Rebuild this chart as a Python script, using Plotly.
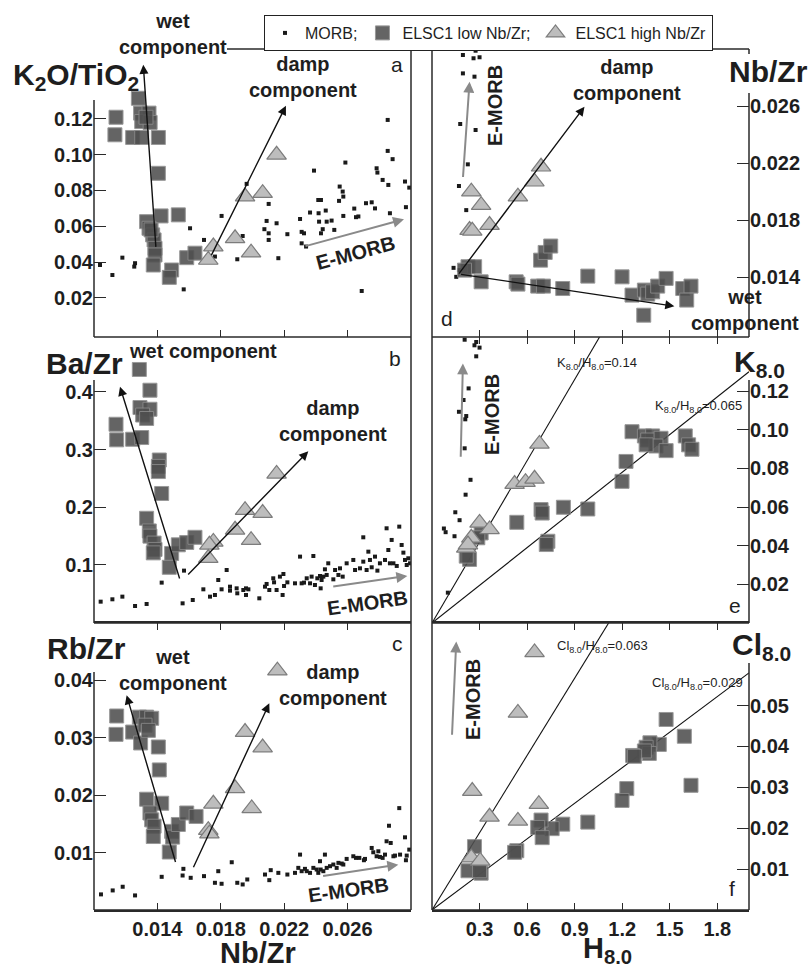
import plotly.graph_objects as go

FONT = "Liberation Sans, Arial, Helvetica, sans-serif"
W, H = 812, 969

# ---------------- DATA ----------------
# Panel a: K2O/TiO2 vs Nb/Zr
a_morb_nbzr = [0.01038, 0.01116, 0.01179, 0.01259, 0.01254, 0.01566, 0.01606, 0.01694, 0.01763, 0.01805,
               0.01938, 0.01904, 0.01963, 0.02102, 0.02089, 0.02075, 0.02102, 0.02152, 0.02102, 0.02163,
               0.02220, 0.02300, 0.02310, 0.02325, 0.02310, 0.02338, 0.02363, 0.02388, 0.02415, 0.02432,
               0.02417, 0.02420, 0.02432, 0.02443, 0.02462, 0.02468, 0.02499, 0.02516, 0.02546, 0.02550,
               0.02569, 0.02573, 0.02573, 0.02586, 0.02642, 0.02653, 0.02668, 0.02716, 0.02752, 0.02773,
               0.02783, 0.02788, 0.02821, 0.02857, 0.02853, 0.02853, 0.02884, 0.02867, 0.02962, 0.02989,
               0.02968, 0.02689]
a_morb_k2o = [0.0384, 0.0328, 0.0425, 0.0394, 0.0375, 0.0248, 0.0589, 0.0524, 0.0431, 0.0658,
              0.0546, 0.0416, 0.0837, 0.0725, 0.0630, 0.0584, 0.0561, 0.0617, 0.0524, 0.0422,
              0.0556, 0.0641, 0.0569, 0.0561, 0.0505, 0.0487, 0.0677, 0.0911, 0.0747, 0.0747,
              0.0673, 0.0626, 0.0561, 0.0584, 0.0688, 0.0626, 0.0632, 0.0580, 0.0742, 0.0822,
              0.0794, 0.0766, 0.0658, 0.0956, 0.0699, 0.0651, 0.0655, 0.0729, 0.0734, 0.0700,
              0.0924, 0.0900, 0.0859, 0.0831, 0.1194, 0.1021, 0.0975, 0.0673, 0.0850, 0.0816,
              0.0707, 0.0239]
a_low_nbzr = [0.01280, 0.01139, 0.01132, 0.01244, 0.01301, 0.01406, 0.01294, 0.01347, 0.01301, 0.01354,
              0.01328, 0.01406, 0.01423, 0.01532, 0.01332, 0.01347, 0.01370, 0.01379, 0.01385, 0.01385,
              0.01374, 0.01490, 0.01475, 0.01585, 0.01637, 0.01360]
a_low_k2o = [0.1315, 0.1209, 0.1111, 0.1096, 0.1096, 0.1096, 0.1232, 0.1232, 0.1185, 0.1180,
             0.1209, 0.0896, 0.0658, 0.0664, 0.0626, 0.0589, 0.0552, 0.0524, 0.0477, 0.0440,
             0.0384, 0.0356, 0.0315, 0.0425, 0.0450, 0.0580]
a_high_nbzr = [0.02152, 0.01953, 0.02064, 0.01890, 0.01991, 0.01753, 0.01721]
a_high_k2o = [0.0999, 0.0766, 0.0785, 0.0533, 0.0453, 0.0487, 0.0412]

# Panel b: Ba/Zr vs Nb/Zr
b_morb_nbzr = [0.01042, 0.01116, 0.01179, 0.01259, 0.01332, 0.01427, 0.01559, 0.01568, 0.01623, 0.01690,
               0.01732, 0.01763, 0.01784, 0.01805, 0.01837, 0.01858, 0.01858, 0.01900, 0.01904, 0.01942,
               0.01959, 0.01959, 0.01974, 0.02043, 0.02079, 0.02089, 0.02106, 0.02131, 0.02136, 0.02152,
               0.02173, 0.02190, 0.02195, 0.02199, 0.02220, 0.02268, 0.02300, 0.02310, 0.02325, 0.02342,
               0.02363, 0.02373, 0.02384, 0.02394, 0.02409, 0.02426, 0.02430, 0.02436, 0.02447, 0.02457,
               0.02468, 0.02478, 0.02510, 0.02521, 0.02542, 0.02552, 0.02569, 0.02594, 0.02636, 0.02647,
               0.02678, 0.02699, 0.02699, 0.02720, 0.02741, 0.02752, 0.02773, 0.02788, 0.02804, 0.02836,
               0.02846, 0.02857, 0.02867, 0.02878, 0.02889, 0.02910, 0.02926, 0.02941, 0.02952, 0.02962,
               0.02973, 0.02983, 0.02994, 0.02731]
b_morb_bazr = [0.0364, 0.0405, 0.0451, 0.0289, 0.0324, 0.0694, 0.0335, 0.0902, 0.0393, 0.0578,
               0.0451, 0.0480, 0.0740, 0.0578, 0.0913, 0.0624, 0.0555, 0.0595, 0.0509, 0.0566,
               0.0595, 0.0480, 0.0578, 0.0422, 0.0624, 0.0671, 0.0566, 0.0769, 0.0699, 0.0566,
               0.0798, 0.0480, 0.0844, 0.0636, 0.0699, 0.0682, 0.1145, 0.0682, 0.0694, 0.0769,
               0.0682, 0.0798, 0.1156, 0.0653, 0.0769, 0.0809, 0.0595, 0.0740, 0.0798, 0.0925,
               0.0827, 0.1029, 0.0751, 0.0913, 0.0827, 0.0942, 0.0798, 0.1029, 0.1087, 0.0913,
               0.0942, 0.1058, 0.1480, 0.0913, 0.1087, 0.0960, 0.1145, 0.0902, 0.1029, 0.1087,
               0.1636, 0.1260, 0.1029, 0.1434, 0.1029, 0.0983, 0.1665, 0.1347, 0.1214, 0.1087,
               0.1000, 0.1116, 0.1029, 0.1231]
b_low_nbzr = [0.01286, 0.01353, 0.01290, 0.01353, 0.01307, 0.01332, 0.01139, 0.01143, 0.01244, 0.01301,
              0.01412, 0.01406, 0.01406, 0.01427, 0.01332, 0.01349, 0.01353, 0.01379, 0.01385, 0.01374,
              0.01490, 0.01475, 0.01532, 0.01585, 0.01637]
b_low_bazr = [0.439, 0.403, 0.373, 0.370, 0.360, 0.354, 0.344, 0.317, 0.318, 0.321,
              0.282, 0.271, 0.262, 0.224, 0.181, 0.159, 0.150, 0.138, 0.127, 0.121,
              0.120, 0.096, 0.135, 0.139, 0.148]
b_high_nbzr = [0.02152, 0.01953, 0.02064, 0.01890, 0.01991, 0.01753, 0.01728, 0.01721]
b_high_bazr = [0.258, 0.195, 0.190, 0.161, 0.143, 0.140, 0.135, 0.112]

# Panel c: Rb/Zr vs Nb/Zr
c_morb_nbzr = [0.01044, 0.01118, 0.01181, 0.01259, 0.01427, 0.01564, 0.01559, 0.01610, 0.01694, 0.01763,
               0.01784, 0.01805, 0.01869, 0.01904, 0.01938, 0.01967, 0.02079, 0.02106, 0.02115, 0.02163,
               0.02220, 0.02268, 0.02289, 0.02300, 0.02310, 0.02331, 0.02342, 0.02363, 0.02384, 0.02405,
               0.02415, 0.02426, 0.02430, 0.02447, 0.02457, 0.02468, 0.02489, 0.02510, 0.02531, 0.02542,
               0.02563, 0.02573, 0.02594, 0.02636, 0.02653, 0.02674, 0.02703, 0.02710, 0.02752, 0.02762,
               0.02783, 0.02794, 0.02821, 0.02836, 0.02846, 0.02861, 0.02872, 0.02889, 0.02899, 0.02926,
               0.02931, 0.02962, 0.02968, 0.02973, 0.02989, 0.02804]
c_morb_rbzr = [0.00272, 0.00341, 0.00405, 0.00254, 0.00578, 0.00717, 0.00601, 0.00561, 0.00590, 0.00474,
               0.00676, 0.00457, 0.00832, 0.00474, 0.00445, 0.00532, 0.00618, 0.00520, 0.00694, 0.00647,
               0.00618, 0.00647, 0.00734, 0.00965, 0.00676, 0.00717, 0.00676, 0.00647, 0.00734, 0.00705,
               0.00647, 0.00850, 0.00705, 0.00676, 0.00965, 0.00734, 0.00763, 0.00792, 0.00734, 0.00821,
               0.00809, 0.00792, 0.00890, 0.00936, 0.00908, 0.00908, 0.00867, 0.00890, 0.01081, 0.01006,
               0.00936, 0.01023, 0.00908, 0.00965, 0.01197, 0.01468, 0.01168, 0.00936, 0.00948, 0.01775,
               0.00965, 0.01266, 0.00867, 0.00948, 0.01052, 0.00925]
c_low_nbzr = [0.01143, 0.01139, 0.01244, 0.01294, 0.01286, 0.01332, 0.01364, 0.01322, 0.01343, 0.01406,
              0.01412, 0.01332, 0.01427, 0.01353, 0.01364, 0.01379, 0.01374, 0.01490, 0.01496, 0.01532,
              0.01585, 0.01644, 0.01475]
c_low_rbzr = [0.0338, 0.0306, 0.0310, 0.0291, 0.0336, 0.0336, 0.0334, 0.0322, 0.0313, 0.0284,
              0.0244, 0.0193, 0.0186, 0.0169, 0.0157, 0.0146, 0.0128, 0.0137, 0.0127, 0.0149,
              0.0169, 0.0163, 0.0101]
c_high_nbzr = [0.02157, 0.01953, 0.02064, 0.01890, 0.01995, 0.01753, 0.01721, 0.01728]
c_high_rbzr = [0.0417, 0.0310, 0.0283, 0.0212, 0.0177, 0.0185, 0.0139, 0.0133]

# Panel d: Nb/Zr vs H8.0
d_morb_h = [0.195, 0.275, 0.262, 0.300, 0.195, 0.268, 0.178, 0.275, 0.226, 0.170, 0.216, 0.136, 0.153, 0.170]
d_morb_nbzr = [0.02958, 0.02988, 0.02935, 0.02942, 0.02829, 0.02806, 0.02474, 0.02432, 0.02191, 0.02039,
               0.01870, 0.01465, 0.01402, 0.01449]
d_low_h = [0.227, 0.269, 0.205, 0.310, 0.531, 0.542, 0.667, 0.703, 0.825, 0.983, 1.199, 1.262, 1.340,
           1.361, 1.392, 1.424, 1.477, 1.336, 1.582, 1.634, 1.607, 0.685, 0.714, 0.749]
d_low_nbzr = [0.01473, 0.01473, 0.01449, 0.01367, 0.01367, 0.01351, 0.01337, 0.01337, 0.01320, 0.01407,
              0.01402, 0.01274, 0.01309, 0.01281, 0.01297, 0.01337, 0.01391, 0.01133, 0.01320, 0.01337,
              0.01239, 0.01519, 0.01573, 0.01618]
d_high_h = [0.248, 0.310, 0.237, 0.254, 0.363, 0.542, 0.646, 0.688]
d_high_nbzr = [0.01999, 0.01905, 0.01730, 0.01725, 0.01765, 0.01964, 0.02069, 0.02174]

# Panel e: K8.0 vs H8.0
e_morb_h = [0.206, 0.279, 0.268, 0.300, 0.279, 0.231, 0.199, 0.170, 0.216, 0.210, 0.206, 0.243, 0.212,
            0.147, 0.174, 0.075, 0.086, 0.142, 0.100]
e_morb_k = [0.1466, 0.1454, 0.1437, 0.1425, 0.1380, 0.1214, 0.1154, 0.1093, 0.1071, 0.1054, 0.0904, 0.0741,
            0.0664, 0.0573, 0.0532, 0.0489, 0.0470, 0.0449, 0.0157]
e_low_h = [1.262, 1.340, 1.392, 1.361, 1.445, 1.413, 1.351, 1.477, 1.598, 1.619, 1.640, 1.224, 1.199,
           0.983, 0.829, 0.688, 0.695, 0.535, 0.731, 0.721, 0.310, 0.289, 0.237, 0.216]
e_low_k = [0.0990, 0.0968, 0.0968, 0.0947, 0.0956, 0.0916, 0.0922, 0.0892, 0.0968, 0.0922, 0.0899, 0.0836,
           0.0733, 0.0590, 0.0599, 0.0587, 0.0569, 0.0521, 0.0423, 0.0406, 0.0466, 0.0441, 0.0329, 0.0346]
e_high_h = [0.678, 0.521, 0.590, 0.647, 0.300, 0.363, 0.248, 0.216, 0.227]
e_high_k = [0.0927, 0.0719, 0.0729, 0.0746, 0.0518, 0.0484, 0.0441, 0.0389, 0.0406]

# Panel f: Cl8.0 vs H8.0
f_low_h = [1.477, 1.592, 1.634, 1.434, 1.375, 1.351, 1.371, 1.340, 1.266, 1.277, 1.229, 1.199, 0.983,
           0.825, 0.758, 0.688, 0.667, 0.695, 0.535, 0.521, 0.268, 0.227, 0.310, 0.300]
f_low_cl = [0.0466, 0.0425, 0.0305, 0.0405, 0.0409, 0.0398, 0.0383, 0.0389, 0.0378, 0.0376, 0.0297, 0.0268,
            0.0215, 0.0210, 0.0199, 0.0220, 0.0202, 0.0177, 0.0145, 0.0141, 0.0155, 0.0096, 0.0090, 0.0096]
f_high_h = [0.647, 0.542, 0.254, 0.363, 0.542, 0.674, 0.248, 0.304]
f_high_cl = [0.0630, 0.0482, 0.0291, 0.0228, 0.0218, 0.0259, 0.0128, 0.0120]

# Reference ratio lines (slope = ratio to H8.0)
e_ratios = [0.14, 0.065]
f_ratios = [0.063, 0.029]
h_line = [0.0, 2.0]

# Trend arrows: (tail_x, tail_y, head_x, head_y, colour key)
arrows = {
    "a": [(0.01391, 0.0477, 0.01311, 0.1502, "k"), (0.01736, 0.0431, 0.02211, 0.1273, "k"),
          (0.02325, 0.0487, 0.02956, 0.0639, "g")],
    "b": [(0.01543, 0.074, 0.01164, 0.409, "k"), (0.01585, 0.081, 0.02352, 0.297, "k"),
          (0.02500, 0.0624, 0.02977, 0.081, "g")],
    "c": [(0.01517, 0.0081, 0.01206, 0.0374, "k"), (0.01623, 0.0072, 0.02106, 0.0360, "k"),
          (0.02436, 0.0059, 0.02920, 0.0079, "g")],
    "d": [(0.163, 0.01414, 0.962, 0.02595, "k"), (0.174, 0.01421, 1.529, 0.01196, "k"),
          (0.195, 0.02092, 0.237, 0.02771, "g")],
    "e": [(0.181, 0.0853, 0.195, 0.1343, "g")],
    "f": [(0.126, 0.0425, 0.153, 0.0657, "g")],
}

left_xticks = [0.014, 0.018, 0.022, 0.026]
right_xticks = [0.3, 0.6, 0.9, 1.2, 1.5, 1.8]

# ---------------- LAYOUT HELPERS (window pixels -> paper) ----------------
def px(x):
    return x / W

def py(y):
    return 1 - y / H

LX = [px(94), px(411)]
RX = [px(432), px(749)]
ROWS = [[py(337), py(49)], [py(623), py(337)], [py(910), py(623)]]

LINE = "#2a2a2a"
TXT = "#1e1e1e"

MORB_M = dict(symbol="square", size=4, color="#1a1a1a")
LOW_M = dict(symbol="square", size=14, color="#4f4f4f", line=dict(color="#8a8a8a", width=1), opacity=0.88)
HIGH_M = dict(symbol="triangle-up", size=17, color="#bdbdbd", line=dict(color="#7c7c7c", width=1.2))

fig = go.Figure()

panels = {
    "a": ("x", "y"), "d": ("x2", "y2"),
    "b": ("x3", "y3"), "e": ("x4", "y4"),
    "c": ("x5", "y5"), "f": ("x6", "y6"),
}

def add_sc(panel, x, y, marker, name, legend=False):
    xa, ya = panels[panel]
    fig.add_trace(go.Scatter(x=x, y=y, mode="markers", marker=marker, name=name,
                             showlegend=legend, xaxis=xa, yaxis=ya, cliponaxis=True))

for s in e_ratios:
    fig.add_trace(go.Scatter(x=h_line, y=[s * h for h in h_line], mode="lines",
                             line=dict(color="#111", width=1.1), showlegend=False,
                             xaxis="x4", yaxis="y4", hoverinfo="skip"))
for s in f_ratios:
    fig.add_trace(go.Scatter(x=h_line, y=[s * h for h in h_line], mode="lines",
                             line=dict(color="#111", width=1.1), showlegend=False,
                             xaxis="x6", yaxis="y6", hoverinfo="skip"))

add_sc("a", a_morb_nbzr, a_morb_k2o, MORB_M, "MORB;", True)
add_sc("a", a_low_nbzr, a_low_k2o, LOW_M, "ELSC1 low Nb/Zr;", True)
add_sc("a", a_high_nbzr, a_high_k2o, HIGH_M, "ELSC1 high Nb/Zr", True)
add_sc("b", b_morb_nbzr, b_morb_bazr, MORB_M, "MORB")
add_sc("b", b_low_nbzr, b_low_bazr, LOW_M, "ELSC1 low")
add_sc("b", b_high_nbzr, b_high_bazr, HIGH_M, "ELSC1 high")
add_sc("c", c_morb_nbzr, c_morb_rbzr, MORB_M, "MORB")
add_sc("c", c_low_nbzr, c_low_rbzr, LOW_M, "ELSC1 low")
add_sc("c", c_high_nbzr, c_high_rbzr, HIGH_M, "ELSC1 high")
add_sc("d", d_morb_h, d_morb_nbzr, MORB_M, "MORB")
add_sc("d", d_low_h, d_low_nbzr, LOW_M, "ELSC1 low")
add_sc("d", d_high_h, d_high_nbzr, HIGH_M, "ELSC1 high")
add_sc("e", e_morb_h, e_morb_k, MORB_M, "MORB")
add_sc("e", e_low_h, e_low_k, LOW_M, "ELSC1 low")
add_sc("e", e_high_h, e_high_k, HIGH_M, "ELSC1 high")
add_sc("f", f_low_h, f_low_cl, LOW_M, "ELSC1 low")
add_sc("f", f_high_h, f_high_cl, HIGH_M, "ELSC1 high")

TICKFONT = dict(family=FONT, size=20, color=TXT, weight="bold")

def xax(domain, anchor, rng, tickvals, fmt, labels=False, side="bottom", mirror=False, showline=False):
    d = dict(domain=domain, anchor=anchor, range=rng, tickvals=tickvals, tickformat=fmt,
             ticks="inside", ticklen=7, tickwidth=1.4, tickcolor=LINE, showgrid=False, zeroline=False,
             showticklabels=labels, tickfont=TICKFONT, side=side, showline=showline,
             linecolor=LINE, linewidth=1.5)
    if mirror:
        d["mirror"] = "ticks"
    return d

def yax(domain, anchor, rng, tickvals, fmt, side="left"):
    return dict(domain=domain, anchor=anchor, range=rng, tickvals=tickvals, tickformat=fmt,
                ticks="inside", ticklen=12, tickwidth=1.4, tickcolor=LINE, showgrid=False,
                zeroline=False, showline=False, tickfont=TICKFONT, side=side)

layout = dict(
    width=W, height=H, margin=dict(l=0, r=0, t=0, b=0),
    paper_bgcolor="white", plot_bgcolor="white",
    font=dict(family=FONT, color=TXT),
    xaxis=xax(LX, "y", [0.010, 0.030], left_xticks, ".3f"),
    yaxis=yax(ROWS[0], "x", [-0.0018, 0.159], [0.02, 0.04, 0.06, 0.08, 0.10, 0.12], ".2f"),
    xaxis2=xax(RX, "y2", [0.0, 2.0], right_xticks, ".1f"),
    yaxis2=yax(ROWS[0], "x2", [0.0098, 0.030], [0.014, 0.018, 0.022, 0.026], ".3f", side="right"),
    xaxis3=xax(LX, "y3", [0.010, 0.030], [], ".3f"),
    yaxis3=yax(ROWS[1], "x3", [-0.0006, 0.4953], [0.1, 0.2, 0.3, 0.4], ".1f"),
    xaxis4=xax(RX, "y4", [0.0, 2.0], right_xticks, ".1f", side="top"),
    yaxis4=yax(ROWS[1], "x4", [0.0, 0.148], [0.02, 0.04, 0.06, 0.08, 0.10, 0.12], ".2f", side="right"),
    xaxis5=xax(LX, "y5", [0.010, 0.030], left_xticks, ".3f", labels=True, mirror=True, showline=True),
    yaxis5=yax(ROWS[2], "x5", [0.0, 0.05], [0.01, 0.02, 0.03, 0.04], ".2f"),
    xaxis6=xax(RX, "y6", [0.0, 2.0], right_xticks, ".1f", labels=True, mirror=True, showline=True),
    yaxis6=yax(ROWS[2], "x6", [0.0, 0.0702], [0.01, 0.02, 0.03, 0.04, 0.05], ".2f", side="right"),
    legend=dict(orientation="h", x=px(264), y=py(15), xanchor="left", yanchor="top",
                bordercolor="#222", borderwidth=1, bgcolor="white",
                font=dict(family=FONT, size=16, color=TXT), itemsizing="trace",
                tracegroupgap=0),
    showlegend=True,
)
fig.update_layout(**layout)

# ---------------- FRAME LINES ----------------
segs = [
    (227, 49, 411, 49), (411, 49, 411, 910),
    (94, 100, 94, 337), (94, 380, 94, 623), (94, 672, 94, 910),
    (94, 337, 411, 337), (94, 623, 411, 623), (94, 910, 411, 910),
    (432, 49, 749, 49), (432, 49, 432, 910),
    (749, 49, 749, 54), (749, 93, 749, 337), (749, 380, 749, 623), (749, 663, 749, 910),
    (432, 337, 749, 337), (432, 623, 749, 623), (432, 910, 749, 910),
]
shapes = []
for x0, y0, x1, y1 in segs:
    shapes.append(dict(type="line", xref="paper", yref="paper", x0=px(x0), y0=py(y0),
                       x1=px(x1), y1=py(y1), line=dict(color=LINE, width=1.5)))
fig.update_layout(shapes=shapes)

# ---------------- ANNOTATIONS ----------------
ann = []

def txt(x, y, s, size=20, bold=True, angle=0, color=TXT):
    ann.append(dict(xref="paper", yref="paper", x=px(x), y=py(y), text=s, showarrow=False,
                    xanchor="center", yanchor="middle", textangle=angle,
                    font=dict(family=FONT, size=size, color=color,
                              weight="bold" if bold else "normal")))

# axis titles
txt(76, 77, "K<sub>2</sub>O/TiO<sub>2</sub>", size=30)
txt(84, 363, "Ba/Zr", size=30)
txt(86, 648, "Rb/Zr", size=30)
txt(768, 72, "Nb/Zr", size=30)
txt(759, 363, "K<sub>8.0</sub>", size=30)
txt(761, 646, "Cl<sub>8.0</sub>", size=30)
txt(258, 953, "Nb/Zr", size=29)
txt(607, 950, "H<sub>8.0</sub>", size=29)

# component labels
txt(173, 34, "wet<br>component")
txt(303, 77, "damp<br>component")
txt(203, 351, "wet component")
txt(333, 421, "damp<br>component")
txt(173, 670, "wet<br>component")
txt(333, 685, "damp<br>component")
txt(627, 80, "damp<br>component")
txt(745, 310, "wet<br>component")

# E-MORB labels
txt(355, 253, "E-MORB", angle=-15)
txt(367, 603, "E-MORB", angle=-8)
txt(348, 890, "E-MORB", angle=-8)
txt(495, 106, "E-MORB", angle=-90)
txt(492, 415, "E-MORB", angle=-90)
txt(473, 700, "E-MORB", angle=-90)

# panel letters
for (x, y, s) in [(397, 65, "a"), (395, 358, "b"), (397, 643, "c"),
                  (447, 318, "d"), (735, 605, "e"), (732, 888, "f")]:
    txt(x, y, s, size=21, bold=False)

# ratio line labels
txt(597, 363, "K<sub>8.0</sub>/H<sub>8.0</sub>=0.14", size=13, bold=False)
txt(698, 406, "K<sub>8.0</sub>/H<sub>8.0</sub>=0.065", size=13, bold=False)
txt(602, 646, "Cl<sub>8.0</sub>/H<sub>8.0</sub>=0.063", size=13, bold=False)
txt(697, 683, "Cl<sub>8.0</sub>/H<sub>8.0</sub>=0.029", size=13, bold=False)

# arrows
for p, lst in arrows.items():
    xa, ya = panels[p]
    for (tx, ty, hx, hy, c) in lst:
        col = "#111111" if c == "k" else "#8a8a8a"
        ann.append(dict(xref=xa, yref=ya, axref=xa, ayref=ya, x=hx, y=hy, ax=tx, ay=ty,
                        text="", showarrow=True, arrowhead=2, arrowsize=1.3 if c == "k" else 1.1,
                        arrowwidth=1.4 if c == "k" else 2.0, arrowcolor=col, standoff=0))

fig.update_layout(annotations=ann)

# place the figure at the window's top-left corner (no default body margin), no mode bar
fig.write_html("out.html", config={"displayModeBar": False},
               post_script="document.body.style.margin='0';"
                           "document.documentElement.style.overflow='hidden';")
